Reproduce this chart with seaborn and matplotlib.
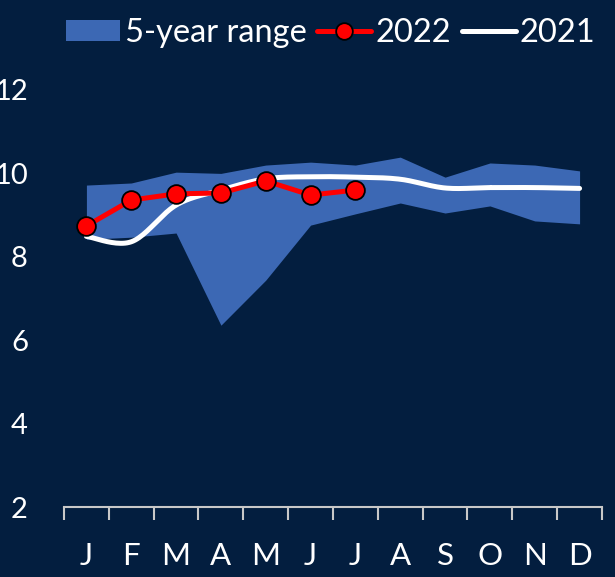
import numpy as np
import pandas as pd
import matplotlib
matplotlib.use("Agg")
import matplotlib.pyplot as plt
import seaborn as sns
from matplotlib.patches import Patch
from matplotlib.lines import Line2D

# values
months = ["J", "F", "M", "A", "M", "J", "J", "A", "S", "O", "N", "D"]
range_low = [8.42, 8.47, 8.57, 6.36, 7.44, 8.76, 9.03, 9.29, 9.05, 9.22, 8.86, 8.79]
range_high = [9.72, 9.77, 10.03, 10.0, 10.2, 10.27, 10.2, 10.39, 9.91, 10.25, 10.2, 10.06]
y2022 = [8.74, 9.36, 9.51, 9.53, 9.82, 9.48, 9.60]
y2021 = [8.49, 8.36, 9.24, 9.60, 9.87, 9.92, 9.91, 9.86, 9.65, 9.66, 9.66, 9.64]
yticks = [2, 4, 6, 8, 10, 12]

bg = "#031e3f"
fill_col = "#3c68b4"
font = "Lato"


def smooth(x, y, n=24):
    """Catmull-Rom smoothing similar to a spreadsheet 'smoothed line'."""
    x = np.asarray(x, float)
    y = np.asarray(y, float)
    px = np.concatenate([[x[0]], x, [x[-1]]])
    py = np.concatenate([[y[0]], y, [y[-1]]])
    xs, ys = [], []
    t = np.linspace(0, 1, n)
    for i in range(1, len(px) - 2):
        for arr, out in ((px, xs), (py, ys)):
            p0, p1, p2, p3 = arr[i - 1], arr[i], arr[i + 1], arr[i + 2]
            out.extend(0.5 * (2 * p1 + (-p0 + p2) * t
                              + (2 * p0 - 5 * p1 + 4 * p2 - p3) * t ** 2
                              + (-p0 + 3 * p1 - 3 * p2 + p3) * t ** 3))
    return np.array(xs), np.array(ys)


sns.set_style("dark", {"axes.facecolor": bg, "figure.facecolor": bg})
plt.rcParams["font.family"] = [font, "DejaVu Sans"]

fig = plt.figure(figsize=(6.15, 5.77), dpi=100)
ax = fig.add_axes([64 / 615, 70 / 577, 538 / 615, 417 / 577])
ax.set_facecolor(bg)

x_all = np.arange(len(months))
ax.fill_between(x_all, range_low, range_high, color=fill_col, linewidth=0, zorder=1)

sx, sy = smooth(x_all, y2021)
df21 = pd.DataFrame({"x": sx, "y": sy})
sns.lineplot(data=df21, x="x", y="y", ax=ax, color="white", linewidth=3.6,
             sort=False, estimator=None, zorder=3)

df22 = pd.DataFrame({"x": np.arange(len(y2022)), "y": y2022})
sns.lineplot(data=df22, x="x", y="y", ax=ax, color="#ff0000", linewidth=3.6,
             marker="o", markersize=13.5, markeredgecolor="black",
             markeredgewidth=1.3, zorder=4)

ax.set_xlim(-0.5, len(months) - 0.5)
ax.set_ylim(2, 12)
ax.set_yticks(yticks)
ax.set_yticklabels([str(v) for v in yticks])
ax.set_xticks(x_all)
ax.set_xticklabels(months)
ax.set_xticks(np.arange(-0.5, len(months)), minor=True)
ax.set_xlabel("")
ax.set_ylabel("")
ax.grid(False)

for s in ["top", "right", "left"]:
    ax.spines[s].set_visible(False)
ax.spines["bottom"].set_color("#c8c8c8")
ax.spines["bottom"].set_linewidth(1.5)

ax.tick_params(axis="y", length=0, pad=26, labelsize=21, labelcolor="white")
ax.tick_params(axis="x", which="major", length=0, pad=25, labelsize=22.5,
               labelcolor="white")
ax.tick_params(axis="x", which="minor", bottom=True, length=9, width=1.5,
               color="#c8c8c8", direction="out")

handles = [
    Patch(facecolor=fill_col, edgecolor="none"),
    Line2D([], [], color="#ff0000", linewidth=3.6, marker="o", markersize=12,
           markeredgecolor="black", markeredgewidth=1.3),
    Line2D([], [], color="white", linewidth=3.6),
]
leg = fig.legend(handles, ["5-year range", "2022", "2021"], ncol=3,
                 loc="center", bbox_to_anchor=(331 / 615, 1 - 33 / 577),
                 frameon=False, handlelength=1.65,
                 handleheight=0.65, handletextpad=0.13, columnspacing=0.33,
                 borderaxespad=0, borderpad=0,
                 prop={"family": [font, "DejaVu Sans"], "size": 23.5})
for t in leg.get_texts():
    t.set_color("white")

fig.savefig("out.png", dpi=100, facecolor=bg)
